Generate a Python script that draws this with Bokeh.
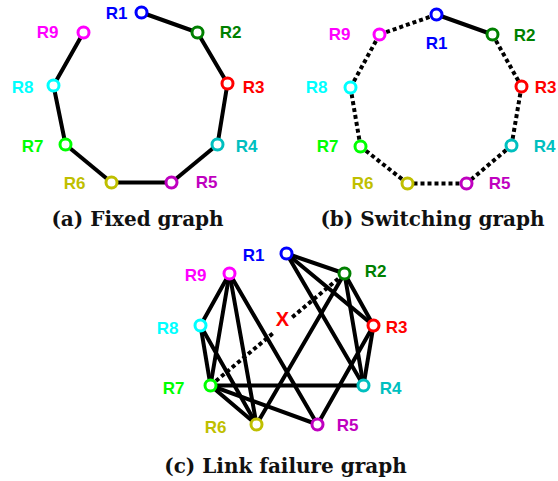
from bokeh.plotting import figure
from bokeh.models import Range1d, ColumnDataSource
from bokeh.core.properties import value
from bokeh.embed import file_html
from bokeh.resources import INLINE

W, H = 558, 481

names = ["R1", "R2", "R3", "R4", "R5", "R6", "R7", "R8", "R9"]
colors = ["#0000ff", "#008000", "#ff0000", "#00bfbf", "#bf00bf",
          "#bfbf00", "#00ff00", "#00ffff", "#ff00ff"]

# (a) fixed graph: node layout and label anchors (page units, y down)
fixed_x = [141, 197, 227, 217, 171, 111, 65, 53, 83]
fixed_y = [12, 32, 83, 144, 182, 182, 144, 85, 32]
fixed_lx = [116, 230, 253, 246, 206, 74, 32, 22, 47]
fixed_ly = [13, 32, 87, 146, 182, 183, 146, 87, 32]
fixed_solid = [(1, 2), (2, 3), (3, 4), (4, 5), (5, 6), (6, 7), (7, 8), (8, 9)]
fixed_dotted = []

# (b) switching graph
switch_x = [436, 492, 521, 511, 466, 407, 360, 350, 379]
switch_y = [14, 34, 86, 145, 183, 183, 146, 87, 34]
switch_lx = [436, 524, 545, 544, 499, 362, 327, 316, 339]
switch_ly = [43, 35, 87, 146, 183, 183, 146, 87, 34]
switch_solid = [(1, 2)]
switch_dotted = [(2, 3), (3, 4), (4, 5), (5, 6), (6, 7), (7, 8), (8, 9), (9, 1)]

# (c) link failure graph
fail_x = [286, 344, 373, 363, 317, 256, 210, 200, 229]
fail_y = [253, 273, 325, 385, 424, 424, 385, 325, 273]
fail_lx = [253, 375, 396, 390, 347, 215, 173, 167, 195]
fail_ly = [255, 271, 327, 388, 425, 427, 388, 328, 275]
fail_solid = [(1, 2), (1, 3), (1, 4), (2, 3), (2, 4), (2, 6), (3, 4), (3, 5),
              (4, 7), (5, 7), (5, 9), (6, 7), (6, 8), (6, 9), (7, 8), (7, 9),
              (8, 9)]
fail_broken = (7, 2)
fail_gap = (0.47, 0.61)
fail_mark = "X"

captions = ["(a) Fixed graph", "(b) Switching graph", "(c) Link failure graph"]
caption_x = [137, 432, 285]
caption_y = [218, 218, 465]

p = figure(width=W, height=H, x_range=Range1d(0, W), y_range=Range1d(H, 0),
           output_backend="svg", toolbar_location=None, min_border=0)
p.axis.visible = False
p.grid.visible = False
p.outline_line_color = None
p.background_fill_color = "white"


def seg_source(xs, ys, edges):
    return ColumnDataSource(dict(
        x0=[xs[a - 1] for a, b in edges], y0=[ys[a - 1] for a, b in edges],
        x1=[xs[b - 1] for a, b in edges], y1=[ys[b - 1] for a, b in edges]))


def draw_graph(xs, ys, lxs, lys, solid, dotted):
    if solid:
        p.segment("x0", "y0", "x1", "y1", source=seg_source(xs, ys, solid),
                  line_color="black", line_width=4, line_cap="round")
    if dotted:
        p.segment("x0", "y0", "x1", "y1", source=seg_source(xs, ys, dotted),
                  line_color="black", line_width=4, line_dash="4 3")
    src = ColumnDataSource(dict(x=xs, y=ys, lx=lxs, ly=lys, name=names, c=colors))
    p.scatter("x", "y", source=src, size=11, fill_color="white",
              line_color="c", line_width=3)
    p.text("lx", "ly", text="name", source=src, text_color="c",
           text_font=value("Liberation Sans"), text_font_style="bold",
           text_font_size="17px", text_align="center", text_baseline="middle")


draw_graph(fixed_x, fixed_y, fixed_lx, fixed_ly, fixed_solid, fixed_dotted)
draw_graph(switch_x, switch_y, switch_lx, switch_ly, switch_solid, switch_dotted)

# failed link in (c): dotted, interrupted where the X sits
a, b = fail_broken
ax, ay = fail_x[a - 1], fail_y[a - 1]
bx, by = fail_x[b - 1], fail_y[b - 1]
t0, t1 = fail_gap
p.segment(x0=[ax, ax + t1 * (bx - ax)], y0=[ay, ay + t1 * (by - ay)],
          x1=[ax + t0 * (bx - ax), bx], y1=[ay + t0 * (by - ay), by],
          line_color="black", line_width=4, line_dash="4 3")
draw_graph(fail_x, fail_y, fail_lx, fail_ly, fail_solid, [])
p.text(x=[282], y=[318], text=[fail_mark], text_color="#ff0000",
       text_font=value("Liberation Sans"), text_font_style="bold",
       text_font_size="20px", text_align="center", text_baseline="middle")

p.text(x=caption_x, y=caption_y, text=captions, text_color="#111111",
       text_font=value("DejaVu Serif"), text_font_style="bold",
       text_font_size="20px", text_align="center", text_baseline="middle")

open("out.html", "w").write(file_html(p, INLINE))
